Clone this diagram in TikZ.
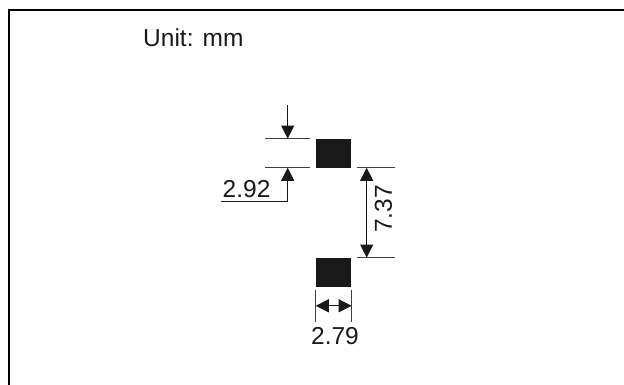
\documentclass[tikz,border=0pt]{standalone}
\usepackage{fontspec}
\setmainfont{Liberation Sans}
\usetikzlibrary{arrows.meta}

\begin{document}
\begin{tikzpicture}[x=1pt,y=-1pt,
    pad/.style={fill=black!90,inner sep=0pt,minimum width=35.5pt,minimum height=28.8pt},
    extline/.style={line width=0.9pt,black!75},
    dimline/.style={line width=1pt,black!90},
    dimtext/.style={inner sep=0pt,text=black!90,font=\fontsize{24.5}{28}\selectfont},
    >={Triangle[length=13pt,width=13pt]}]
\useasboundingbox (0,0) rectangle (624,385);

% Draw the frame (top and left edge only)
\draw[line width=2.6pt,black] (9,385) -- (9,10) -- (624,10);

% Unit label
\node[dimtext,anchor=base west] (unit) at (143,46.7) {Unit: mm};

% Draw the two pads
\node[pad] (padtop) at (333.7,153.2) {};
\node[pad] (padbot) at (333.7,272.2) {};

% Pad length 2.92 (left side)
\draw[extline] ([xshift=-6pt]padtop.north west) -- ++(-45,0) coordinate (etop);
\draw[extline] ([xshift=-6pt]padtop.south west) -- ++(-45,0) coordinate (ebot);
\coordinate (ltop) at (287.7,105);
\coordinate (lbot) at (287.7,201.7);
\coordinate (lend) at (220.7,201.7);
\draw[dimline,->] (ltop) -- (ltop |- padtop.north);
\draw[dimline,->] (lend) -- (lbot) -- (lbot |- padtop.south);
\node[dimtext,anchor=base west] (len) at (222.5,197.6) {2.92};

% Pad pitch 7.37 (right side)
\draw[extline] ([xshift=5pt]padtop.south east) -- ++(38,0) coordinate (rtop);
\draw[extline] ([xshift=5pt]padbot.north east) -- ++(38,0) coordinate (rbot);
\coordinate (ptop) at (366.7,0 |- padtop.south);
\coordinate (pbot) at (366.7,0 |- padbot.north);
\draw[dimline,<->] (ptop) -- (pbot);
\node[dimtext,rotate=90] (pitch) at (383.5,209) {7.37};

% Pad width 2.79 (below)
\draw[extline] ([yshift=-3pt]padbot.south west) -- ++(0,32) coordinate (wl);
\draw[extline] ([yshift=-3pt]padbot.south east) -- ++(0,32) coordinate (wr);
\draw[dimline,<->] ([yshift=-19pt]padbot.south west) -- ([yshift=-19pt]padbot.south east);
\node[dimtext] (wid) at (335,336) {2.79};

\end{tikzpicture}
\end{document}
